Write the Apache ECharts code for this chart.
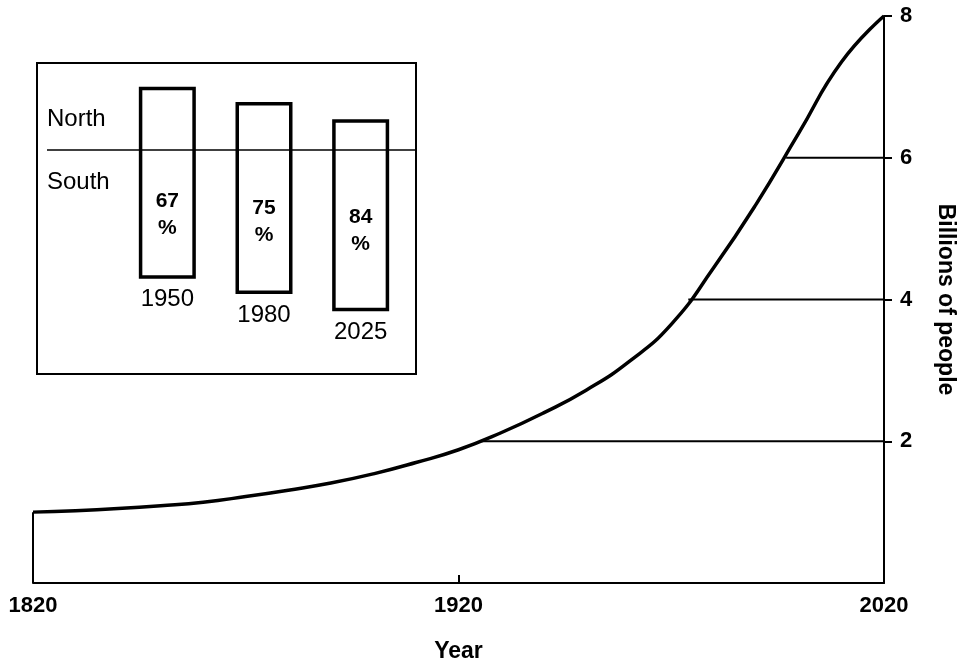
<!DOCTYPE html>
<html>
<head>
<meta charset="utf-8">
<script src="https://cdn.jsdelivr.net/npm/echarts@6/dist/echarts.min.js"></script>
<style>
html,body{margin:0;padding:0;background:#fff;}
#chart{width:969px;height:668px;}
</style>
</head>
<body>
<div id="chart"></div>
<script>
// ---- data ----
const years = [1820,1830,1840,1850,1860,1870,1880,1890,1900,1910,1920,1930,1940,1950,1960,1970,1980,1990,2000,2010,2020];
const population = [1.0,1.02,1.05,1.09,1.14,1.22,1.31,1.41,1.54,1.70,1.88,2.12,2.40,2.72,3.12,3.65,4.45,5.35,6.35,7.35,8.0];
const levelValues = [2,4,6];
const levelStartYears = [1925,1974,1997];
const xTickLabels = [1820,1920,2020];
const yTickLabels = [2,4,6,8];
const insetYears = ['1950','1980','2025'];
const southShare = [67,75,84];
const northShare = [33,25,16];

const FONT = 'Liberation Sans';
const series = [];

series.push({
  type:'line', name:'population', xAxisIndex:0, yAxisIndex:0,
  data: years.map((y,i)=>[y,population[i]]),
  smooth:true, showSymbol:false, symbol:'none',
  lineStyle:{color:'#000',width:3.5}, z:5
});
// left edge from baseline up to curve start
series.push({
  type:'line', xAxisIndex:0, yAxisIndex:0,
  data:[[years[0],0],[years[0],population[0]]],
  showSymbol:false, symbol:'none', lineStyle:{color:'#000',width:2}
});
levelValues.forEach((v,i)=>{
  series.push({
    type:'line', xAxisIndex:0, yAxisIndex:0,
    data:[[levelStartYears[i],v],[years[years.length-1],v]],
    showSymbol:false, symbol:'none', lineStyle:{color:'#000',width:2}
  });
});

// inset bars: south part (transparent base, carries % label), whole bar outline stacked on it
series.push({
  type:'bar', xAxisIndex:1, yAxisIndex:1, barWidth:57, stack:'share', stackStrategy:'all',
  data: southShare.map(v=>-v),
  itemStyle:{color:'rgba(0,0,0,0)',borderWidth:0}, z:12,
  label:{show:true, position:'inside', formatter:p=>southShare[p.dataIndex]+'\n%',
    fontFamily:FONT, fontWeight:'bold', fontSize:21, color:'#000', lineHeight:27}
});
series.push({
  type:'bar', xAxisIndex:1, yAxisIndex:1, barWidth:57, stack:'share', stackStrategy:'all',
  data: northShare.map((v,i)=>v+southShare[i]),
  itemStyle:{color:'#fff',borderColor:'#000',borderWidth:3.5}, z:10
});
series.push({
  type:'bar', xAxisIndex:1, yAxisIndex:1, barWidth:57, barGap:'-100%',
  data: southShare.map(v=>-v),
  itemStyle:{color:'rgba(0,0,0,0)',borderWidth:0}, z:11,
  label:{show:true, position:'bottom', distance:9, formatter:'{b}',
    fontFamily:FONT, fontSize:24, color:'#000'}
});

const chart = echarts.init(document.getElementById('chart'), null, {renderer:'canvas'});
chart.setOption({
  animation:false,
  backgroundColor:'#fff',
  grid:[
    {left:33, right:85, top:16, bottom:83},
    {left:119, width:290, top:54, height:288}
  ],
  xAxis:[
    {type:'value', gridIndex:0, min:1820, max:2020, interval:100,
     splitLine:{show:false},
     axisLine:{show:true, onZero:false, lineStyle:{color:'#000',width:2}},
     axisTick:{show:true, inside:true, length:8, customValues:[1920], lineStyle:{color:'#000',width:2}},
     axisLabel:{customValues:xTickLabels, formatter:v=>String(v), margin:12, fontFamily:FONT, fontWeight:'bold', fontSize:22, color:'#000'},
     name:'Year', nameLocation:'middle', nameGap:57,
     nameTextStyle:{fontFamily:FONT, fontWeight:'bold', fontSize:23, color:'#000'}
    },
    {type:'category', gridIndex:1, data:insetYears,
     axisLine:{show:false}, axisTick:{show:false}, axisLabel:{show:false}, splitLine:{show:false}}
  ],
  yAxis:[
    {type:'value', gridIndex:0, position:'right', min:0, max:8, interval:2,
     splitLine:{show:false},
     axisLine:{show:true, lineStyle:{color:'#000',width:2}},
     axisTick:{show:true, length:8, customValues:yTickLabels, lineStyle:{color:'#000',width:2}},
     axisLabel:{customValues:yTickLabels, formatter:v=>String(v), margin:16, fontFamily:FONT, fontWeight:'bold', fontSize:22, color:'#000'},
     name:'Billions of people', nameLocation:'middle', nameGap:50, nameRotate:-90,
     nameTextStyle:{fontFamily:FONT, fontWeight:'bold', fontSize:23, color:'#000'}
    },
    {type:'value', gridIndex:1, min:-100, max:50,
     axisLine:{show:false}, axisTick:{show:false}, axisLabel:{show:false}, splitLine:{show:false}}
  ],
  graphic:[
    {type:'rect', shape:{x:37,y:63,width:379,height:311}, style:{fill:'none',stroke:'#000',lineWidth:2}, z:1},
    {type:'line', shape:{x1:47,y1:150,x2:416,y2:150}, style:{stroke:'#000',lineWidth:1.6}, z:20},
    {type:'text', x:47, y:119, style:{text:'North', fontFamily:FONT, fontSize:24, fill:'#000', verticalAlign:'middle'}, z:20},
    {type:'text', x:47, y:182, style:{text:'South', fontFamily:FONT, fontSize:24, fill:'#000', verticalAlign:'middle'}, z:20}
  ],
  series:series
});
</script>
</body>
</html>
